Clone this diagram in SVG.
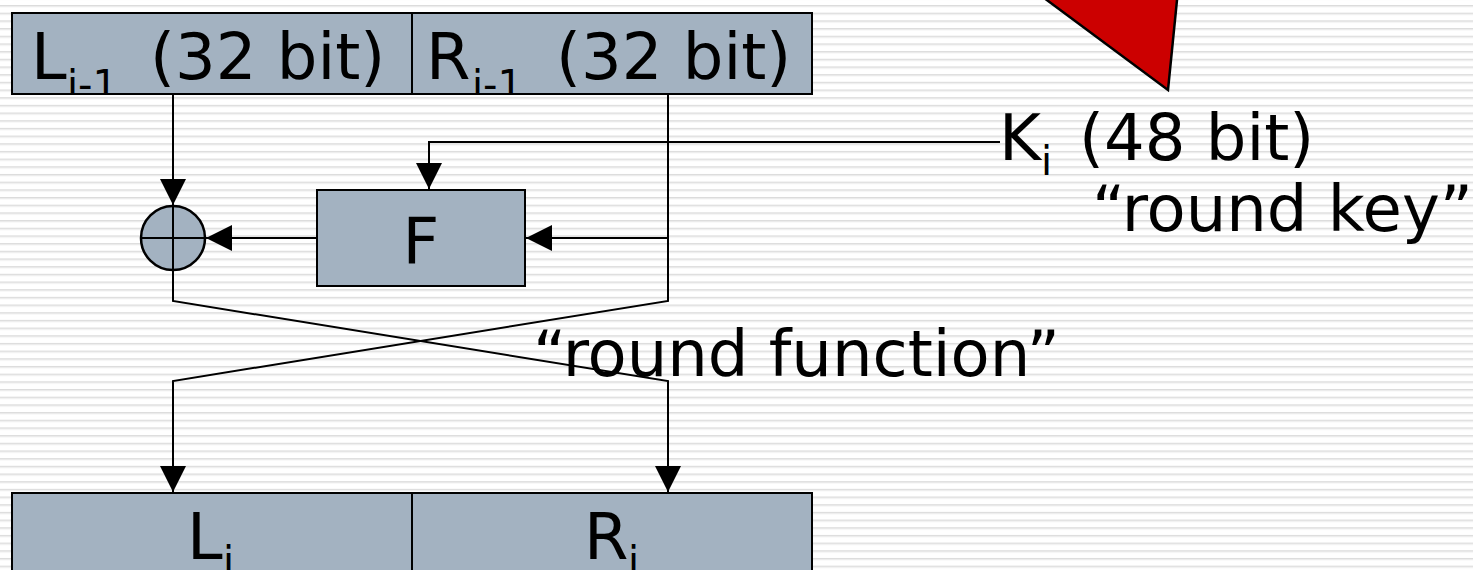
<svg xmlns="http://www.w3.org/2000/svg" width="1473" height="570" viewBox="0 0 1473 570">
<defs>
<pattern id="stripes" patternUnits="userSpaceOnUse" width="40" height="7.68" patternTransform="translate(0,5)">
<rect x="0" y="0" width="40" height="1" fill="#dcdcdc"/>
<rect x="0" y="1" width="40" height="1.2" fill="#eaeaea"/>
</pattern>
<marker id="arr" markerUnits="userSpaceOnUse" markerWidth="26" markerHeight="26" viewBox="0 0 26 26" refX="26" refY="13" orient="auto"><path d="M0,0 L26,13 L0,26 z" fill="#000"/></marker>
<clipPath id="topclip"><rect x="0" y="0" width="1473" height="93"/></clipPath>
</defs>
<style>
.box{fill:#a3b2c1;stroke:#000;stroke-width:2}
.t{font-family:"DejaVu Sans",Verdana,sans-serif;font-size:64px;fill:#000}
.s{font-size:40px}
.c{fill:none;stroke:#000;stroke-width:2}
</style>
<rect width="1473" height="570" fill="#fff"/>
<rect width="1473" height="570" fill="url(#stripes)"/>

<g id="red-triangle">
<polygon points="966,-60 1183,-60 1168,90" fill="#cc0000" stroke="#000" stroke-width="2.5" stroke-linejoin="miter"/>
</g>

<g id="connectors">
<path class="c" d="M173,94 V205" marker-end="url(#arr)"/>
<path class="c" d="M668,94 V301 L173,381 V492" marker-end="url(#arr)"/>
<path class="c" d="M668,238 H526" marker-end="url(#arr)"/>
<path class="c" d="M173,270 V301 L668,381 V492" marker-end="url(#arr)"/>
<path class="c" d="M1000,142 H429 V189" marker-end="url(#arr)"/>
<path class="c" d="M317,238 H206" marker-end="url(#arr)"/>
</g>

<g id="L-prev">
<rect class="box" x="12" y="13" width="400" height="81"/>
<g clip-path="url(#topclip)">
<text class="t" y="79"><tspan x="31">L</tspan><tspan class="s" x="67" y="99">i-1</tspan><tspan x="150" y="79">(32 bit)</tspan></text>
</g>
</g>

<g id="R-prev">
<rect class="box" x="412" y="13" width="400" height="81"/>
<g clip-path="url(#topclip)">
<text class="t" y="79"><tspan x="426">R</tspan><tspan class="s" x="472" y="99">i-1</tspan><tspan x="556" y="79">(32 bit)</tspan></text>
</g>
</g>

<g id="xor">
<circle cx="173" cy="238" r="32" fill="#a3b2c1" stroke="#000" stroke-width="2.5"/>
<path d="M141,238 H205 M173,206 V270" stroke="#000" stroke-width="2" fill="none"/>
</g>

<g id="F">
<rect class="box" x="317" y="190" width="208" height="96"/>
<text class="t" x="421" y="263" text-anchor="middle">F</text>
</g>

<g id="key-label">
<text class="t" y="160"><tspan x="999">K</tspan><tspan class="s" x="1041" y="175">i</tspan><tspan x="1079" y="160">(48 bit)</tspan></text>
<text class="t" x="1092" y="231">“round key”</text>
</g>

<g id="round-function-label">
<text class="t" x="533" y="376">“round function”</text>
</g>

<g id="L-next">
<rect class="box" x="12" y="493" width="400" height="90"/>
<text class="t" y="559"><tspan x="187">L</tspan><tspan class="s" x="223" y="575">i</tspan></text>
</g>

<g id="R-next">
<rect class="box" x="412" y="493" width="400" height="90"/>
<text class="t" y="559"><tspan x="584">R</tspan><tspan class="s" x="628" y="575">i</tspan></text>
</g>
</svg>
